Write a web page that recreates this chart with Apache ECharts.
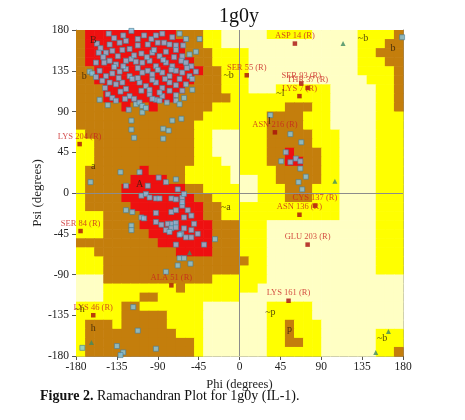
<!DOCTYPE html>
<html><head><meta charset="utf-8">
<script src="https://cdn.jsdelivr.net/npm/echarts@6/dist/echarts.min.js"></script>
<style>html,body{margin:0;padding:0;background:#fff}#c{width:465px;height:420px}</style>
</head><body><div id="c"></div>
<script>
// Region map: 36 rows (psi 180 -> -180), 36 columns (phi -180 -> 180), 10-degree cells, run-length coded
// R = most favoured, B = additional allowed, Y = generously allowed, W = disallowed
const regionRows = [
'B1R10B3Y2W5Y5W5Y4B1','B1R11B2Y2W15Y3B2','B1R11B3Y4W12Y2B3','B1R12B2Y4W12Y3B2',
'B2R12B2Y3W12Y4B1','B2R11B3Y3W13Y3B1','B3R9B4Y3W3Y6W5Y2B1','B3R8B6Y11W5Y2B1',
'B5R1B2R1B6Y8B3Y2W5Y2B1','B14Y7B4Y3W5Y3','B13Y8B4Y3W5Y3','Y1B12Y2W3Y3B5Y3W4Y3',
'Y2B11Y2W3Y3B5Y3W4Y3','Y2B11Y2W3Y3B2R1B3Y2W4Y3','Y2B11Y3W2Y3B2R2B2Y2W4Y3','Y1B6R1B4Y5W1Y4B5Y2W4Y3',
'Y1B5R4B2Y5W3Y2B5Y2W4Y3','Y1B4R7B2Y4W2Y3B3Y3W4Y3','Y1B4R8B2Y3W2Y3B3Y3W4Y3','Y1B5R8B2Y13W4Y3',
'Y3B4R7B2Y13W4Y3','Y3B4R8B3Y3W12Y3','Y3B5R7B3Y3W12Y3','B9R6B3Y3W12Y3',
'Y2B9R4B3Y3W12Y3','Y3B16Y2W12Y3','Y3B15Y3W12Y3','W3B12Y6W15',
'W3Y8B1Y8W16','W3Y4B2Y9W18','Y5B2Y7W7Y5W10','Y5B5Y4W7Y5W10',
'Y1B3Y1B5Y4W7Y2B1Y3W9','Y1B10Y3W7Y2B1Y3W6Y3','Y1B12Y1W7Y2B2Y2W6Y3','Y1B12Y1W7Y6W6Y2B1'
];
const regionCodes = ['R','B','Y','W'];
const regionColors = ['#EE1010','#C47E0C','#FFFF00','#FFFFC4'];

// residues (phi, psi)
const residues = [
[-144,176],[-119,179],[-105,174],[-85,176],[-74,172],[-97,170],
[-157,165],[-153,160],[-143,164],[-132,166],[-125,168],[-112,163],[-101,164],[-90,166],[-83,166],[-77,164],[-70,163],[-59,170],[-44,170],
[-155,155],[-147,155],[-140,157],[-129,158],[-121,159],[-108,154],[-96,155],[-88,151],[-81,156],[-70,158],[-63,151],[-55,153],
[-158,144],[-149,144],[-143,146],[-136,142],[-125,146],[-119,148],[-114,145],[-107,144],[-99,146],[-92,140],[-81,144],[-74,140],[-64,146],[-59,144],[-53,140],
[-165,134],[-162,132],[-154,135],[-147,129],[-140,132],[-132,134],[-125,137],[-121,129],[-107,133],[-101,135],[-96,131],[-85,133],[-77,129],[-70,135],[-63,133],[-55,129],[-52,126],
[-151,124],[-143,122],[-136,120],[-129,122],[-118,126],[-110,122],[-103,118],[-92,122],[-85,116],[-77,122],[-70,119],[-59,120],
[-154,103],[-145,109],[-140,105],[-131,112],[-121,107],[-108,113],[-99,109],[-92,103],[-85,107],[-70,108],[-61,105],[-52,114],
[-145,97],[-136,102],[-114,98],[-110,100],[-107,96],[-88,102],[-70,102],[-107,89],
[-119,80],[-119,70],[-116,61],[-84,71],[-78,69],[-84,60],[-74,80],[-64,82],
[-138,171],[-128,174],[-112,170],[-92,174],[-66,176],[-150,150],[-134,151],[-116,152],[-102,150],[-84,147],
[-72,150],[-62,163],[-48,156],[-138,139],[-128,140],[-112,138],[-90,136],[-75,136],[-66,126],[-48,134],
[-158,128],[-133,127],[-112,127],[-96,125],[-82,126],[-63,113],[-148,116],[-125,115],[-99,114],[-88,111],
[-77,113],[-126,104],[-116,104],[-96,104],[-80,100],[-66,98],[-122,92],[-103,94],[-58,138],[-94,158],
[179,172],
[-131,23],[-164,12],[-125,8],[-110,23],[-101,8],[-89,17],[-81,12],[-70,15],[-68,4],
[-108,-3],[-103,-1],[-99,-5],[-92,-6],[-88,-6],[-75,-6],[-70,-7],[-63,-5],[-61,-1],
[-125,-19],[-118,-21],[-108,-27],[-105,-28],[-92,-22],[-92,-32],[-86,-35],[-79,-34],[-74,-34],[-70,-33],
[-75,-21],[-70,-19],[-63,-14],[-63,-10],[-57,-19],[-61,-27],[-53,-25],[-50,-34],
[-119,-36],[-119,-41],[-81,-41],[-75,-39],[-70,-38],[-64,-45],[-61,-39],[-53,-41],[-46,-45],[-66,-46],[-59,-49],[-53,-49],[-77,-43],
[-70,-57],[-39,-57],[-27,-51],
[-68,-80],[-66,-72],[-61,-72],[-54,-78],[-81,-87],
[-117,-126],[-112,-152],[-135,-169],[-128,-176],[-131,-179],[-92,-172],[-173,-171],
[34,86],[56,65],[68,56],[51,45],[46,35],[62,38],[56,34],[67,35],[67,27],[73,18],[65,12],[69,4]
];
const glycines = [[114,165],[105,13],[164,-153],[150,-176],[-163,-165],[-55,-66]];

const flaggedNames = ['ASP 14 (R)','SER 55 (R)','SER 93 (R)','THR 37 (R)','LYS 7 (R)','ASN 216 (R)','CYS 137 (R)','ASN 136 (R)','GLU 203 (R)','LYS 161 (R)','ALA 51 (R)','SER 84 (R)','LYS 46 (R)','LYS 204 (R)'];
const flaggedPhi  = [61, 8, 68, 75, 66, 39, 83, 66, 75, 54, -75, -175, -161, -176];
const flaggedPsi  = [165, 130, 121, 116, 107, 67, -14, -24, -57, -119, -102, -42, -135, 54];

const regionLabelText = ['B','b','A','a','~b','~a','~l','l','~b','b','~p','p','~b','h','~h'];
const regionLabelPhi  = [-161,-171,-110,-161,-12,-15,45,33,136,169,34,55,157,-161,-176];
const regionLabelPsi  = [169,129,10,29,130,-16,110,79,171,160,-132,-151,-160,-149,-129];

const axisTicks = [-180,-135,-90,-45,0,45,90,135,180];

const serif = '"Liberation Serif","DejaVu Serif",serif';

// build cells
const cells = [];
regionRows.forEach((rle, r) => {
  const re = /([RBYW])(\d+)/g; let m; let c = 0;
  while ((m = re.exec(rle)) !== null) {
    const n = parseInt(m[2], 10);
    for (let k = 0; k < n; k++) {
      cells.push([-180 + 10 * c, 170 - 10 * r, regionCodes.indexOf(m[1])]);
      c++;
    }
  }
});

const chart = echarts.init(document.getElementById('c'), null, {renderer: 'canvas'});
const axisCommon = {
  type: 'value', min: axisTicks[0], max: axisTicks[axisTicks.length - 1], interval: 45
};
chart.setOption({
  animation: false,
  grid: {left: 76, top: 30, width: 327, height: 326, containLabel: false},
  xAxis: [
    Object.assign({}, axisCommon, {
      position: 'bottom',
      axisLine: {show: true, onZero: false, lineStyle: {color: '#8a8a8a'}},
      axisTick: {show: true, length: 4, lineStyle: {color: '#555'}},
      axisLabel: {fontFamily: serif, fontSize: 11.5, color: '#222', margin: 5},
      splitLine: {show: false},
      name: 'Phi (degrees)', nameLocation: 'middle', nameGap: 19,
      nameTextStyle: {fontFamily: serif, fontSize: 12.5, color: '#222'}
    }),
    Object.assign({}, axisCommon, {
      position: 'top',
      axisLine: {show: true, onZero: false, lineStyle: {color: '#8a8a8a'}},
      axisTick: {show: false}, axisLabel: {show: false}, splitLine: {show: false}
    })
  ],
  yAxis: [
    Object.assign({}, axisCommon, {
      position: 'left',
      axisLine: {show: true, onZero: false, lineStyle: {color: '#8a8a8a'}},
      axisTick: {show: true, length: 4, lineStyle: {color: '#555'}},
      axisLabel: {fontFamily: serif, fontSize: 11.5, color: '#222', margin: 7},
      splitLine: {show: false}
    }),
    Object.assign({}, axisCommon, {
      position: 'right',
      axisLine: {show: true, onZero: false, lineStyle: {color: '#8a8a8a'}},
      axisTick: {show: false}, axisLabel: {show: false}, splitLine: {show: false}
    })
  ],
  graphic: [
    {type: 'text', x: 239, y: 17, z: 10,
     style: {text: '1g0y', fontFamily: serif, fontSize: 20, fill: '#111', align: 'center', verticalAlign: 'middle'}},
    {type: 'text', x: 38, y: 193, rotation: Math.PI / 2, z: 10,
     style: {text: 'Psi (degrees)', fontFamily: serif, fontSize: 13, fill: '#222', align: 'center', verticalAlign: 'middle'}},
    {type: 'text', left: 40, top: 389, z: 10,
     style: {text: '{b|Figure 2.} Ramachandran Plot for 1g0y (IL-1).', fontFamily: serif, fontSize: 14, fill: '#111',
       rich: {b: {fontFamily: serif, fontSize: 14, fontWeight: 'bold', fill: '#111'}}}}
  ],
  series: [
    {
      type: 'custom', silent: true, z: 1,
      xAxisIndex: 0, yAxisIndex: 0,
      data: cells,
      encode: {x: 0, y: 1},
      renderItem: function (params, api) {
        const phi = api.value(0), psi = api.value(1);
        const p1 = api.coord([phi, psi + 10]);
        const p2 = api.coord([phi + 10, psi]);
        return {type: 'rect', shape: {x: p1[0], y: p1[1], width: p2[0] - p1[0] + 0.6, height: p2[1] - p1[1] + 0.6},
          style: {fill: regionColors[api.value(2)]}};
      },
      markLine: {
        silent: true, symbol: 'none', z: 2, animation: false,
        label: {show: false},
        lineStyle: {color: '#8c8c8c', width: 1, type: 'solid'},
        data: [{xAxis: 0}, {yAxis: 0}]
      }
    },
    {
      type: 'scatter', z: 4, silent: true,
      data: residues, symbol: 'rect', symbolSize: 5,
      itemStyle: {color: '#84C6E6', borderColor: '#4C7C90', borderWidth: 0.8}
    },
    {
      type: 'scatter', z: 4, silent: true,
      data: glycines, symbol: 'triangle', symbolSize: 5,
      itemStyle: {color: '#3E8A62'}
    },
    {
      type: 'scatter', z: 5, silent: true,
      data: flaggedNames.map((n, i) => ({name: n, value: [flaggedPhi[i], flaggedPsi[i]]})),
      symbol: 'rect', symbolSize: 4.5,
      itemStyle: {color: '#A80C0C'},
      label: {show: true, position: 'top', distance: 1, formatter: '{b}',
        fontFamily: serif, fontSize: 8.5, color: '#C82020'}
    },
    {
      type: 'scatter', z: 6, silent: true,
      data: regionLabelText.map((t, i) => ({name: t, value: [regionLabelPhi[i], regionLabelPsi[i]]})),
      symbolSize: 1, itemStyle: {color: 'rgba(0,0,0,0)'},
      label: {show: true, position: 'inside', formatter: '{b}',
        fontFamily: serif, fontSize: 10, color: '#2a1a0a'}
    }
  ]
});
</script>
</body></html>
